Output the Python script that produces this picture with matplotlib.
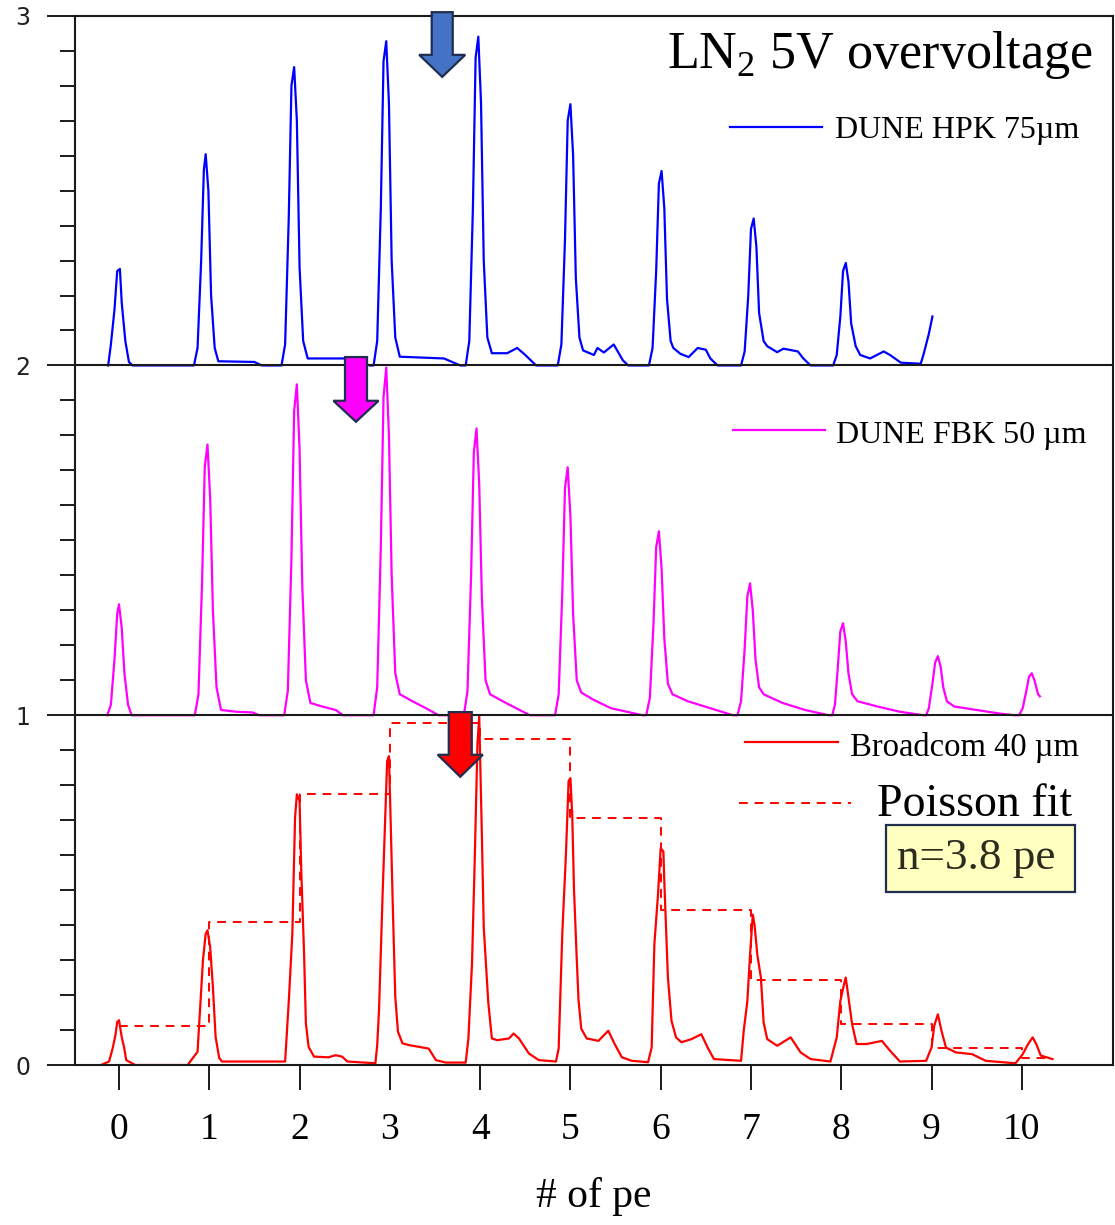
import numpy as np
import matplotlib.pyplot as plt
import matplotlib.patches as mpatches
from matplotlib.ticker import MultipleLocator

plt.rcParams['font.family'] = ['Liberation Serif', 'DejaVu Serif']
plt.rcParams['mathtext.fontset'] = 'custom'
plt.rcParams['mathtext.rm'] = 'Liberation Serif'

# ---- data (x = # of pe, y = normalised counts) ----
# DUNE HPK 75um (drawn with offset 2)
hpk_x = [-0.12, -0.09, -0.05, -0.02, 0.01, 0.03, 0.07, 0.11, 0.15,
         0.83, 0.87, 0.91, 0.94, 0.96, 0.99, 1.02, 1.06, 1.10, 1.50, 1.58,
         1.80, 1.84, 1.88, 1.91, 1.94, 1.97, 2.00, 2.04, 2.09, 2.50, 2.78,
         2.82, 2.86, 2.90, 2.93, 2.96, 2.99, 3.02, 3.06, 3.11, 3.60, 3.78,
         3.84, 3.88, 3.92, 3.95, 3.98, 4.01, 4.04, 4.08, 4.13, 4.30, 4.41, 4.50, 4.62,
         4.86, 4.90, 4.94, 4.97, 5.00, 5.03, 5.06, 5.10, 5.14, 5.26, 5.30, 5.37, 5.48, 5.58, 5.64,
         5.87, 5.91, 5.95, 5.98, 6.01, 6.04, 6.07, 6.11, 6.14, 6.22, 6.31, 6.41, 6.50, 6.55, 6.63,
         6.89, 6.93, 6.97, 7.00, 7.03, 7.06, 7.09, 7.14, 7.18, 7.29, 7.36, 7.52, 7.58, 7.66,
         7.91, 7.95, 7.99, 8.02, 8.05, 8.08, 8.11, 8.16, 8.21, 8.32, 8.47, 8.54, 8.66, 8.88,
         8.91, 8.97, 9.01]
hpk_y = [0, 0.06, 0.16, 0.27, 0.276, 0.18, 0.07, 0.01, 0,
         0, 0.05, 0.30, 0.56, 0.604, 0.50, 0.20, 0.05, 0.012, 0.01, 0,
         0, 0.06, 0.42, 0.80, 0.853, 0.70, 0.28, 0.07, 0.02, 0.02, 0,
         0, 0.07, 0.45, 0.87, 0.927, 0.75, 0.30, 0.08, 0.025, 0.02, 0,
         0, 0.07, 0.45, 0.88, 0.940, 0.75, 0.30, 0.08, 0.035, 0.035, 0.05, 0.03, 0,
         0, 0.06, 0.36, 0.70, 0.747, 0.60, 0.25, 0.08, 0.043, 0.03, 0.05, 0.037, 0.06, 0.015, 0,
         0, 0.05, 0.27, 0.52, 0.556, 0.45, 0.19, 0.07, 0.05, 0.033, 0.024, 0.05, 0.045, 0.02, 0,
         0, 0.04, 0.20, 0.39, 0.420, 0.34, 0.15, 0.07, 0.055, 0.038, 0.048, 0.04, 0.02, 0,
         0, 0.03, 0.14, 0.27, 0.293, 0.24, 0.12, 0.055, 0.03, 0.02, 0.04, 0.03, 0.008, 0.005,
         0.03, 0.09, 0.14]

# DUNE FBK 50um (drawn with offset 1)
fbk_x = [-0.13, -0.09, -0.05, -0.02, 0.00, 0.03, 0.06, 0.10, 0.14,
         0.84, 0.88, 0.92, 0.95, 0.98, 1.01, 1.04, 1.08, 1.13, 1.30, 1.48, 1.55,
         1.83, 1.87, 1.91, 1.94, 1.97, 2.00, 2.03, 2.07, 2.12, 2.25, 2.40, 2.48,
         2.82, 2.86, 2.90, 2.93, 2.96, 2.99, 3.02, 3.06, 3.11, 3.25, 3.40, 3.54,
         3.82, 3.86, 3.90, 3.93, 3.96, 3.99, 4.02, 4.06, 4.11, 4.25, 4.40, 4.55,
         4.83, 4.87, 4.91, 4.94, 4.97, 5.00, 5.03, 5.07, 5.12, 5.25, 5.45, 5.80,
         5.84, 5.88, 5.92, 5.95, 5.98, 6.01, 6.04, 6.08, 6.13, 6.30, 6.55, 6.80,
         6.85, 6.89, 6.93, 6.96, 6.99, 7.02, 7.05, 7.09, 7.14, 7.35, 7.60, 7.86,
         7.90, 7.93, 7.96, 7.99, 8.02, 8.05, 8.08, 8.12, 8.18, 8.40, 8.65, 8.91,
         8.94, 8.97, 9.01, 9.04, 9.07, 9.10, 9.13, 9.17, 9.25, 9.50, 9.75, 9.92,
         9.97, 10.01, 10.05, 10.08, 10.11, 10.14, 10.18, 10.20]
fbk_y = [0, 0.03, 0.16, 0.29, 0.317, 0.25, 0.12, 0.03, 0,
         0, 0.06, 0.38, 0.71, 0.774, 0.62, 0.30, 0.08, 0.015, 0.01, 0.008, 0,
         0, 0.07, 0.45, 0.87, 0.946, 0.76, 0.37, 0.10, 0.035, 0.025, 0.015, 0,
         0, 0.08, 0.48, 0.91, 0.994, 0.80, 0.40, 0.12, 0.06, 0.04, 0.02, 0,
         0, 0.07, 0.40, 0.75, 0.820, 0.66, 0.33, 0.10, 0.06, 0.04, 0.02, 0,
         0, 0.06, 0.35, 0.65, 0.709, 0.57, 0.29, 0.10, 0.065, 0.045, 0.02, 0,
         0, 0.05, 0.26, 0.48, 0.526, 0.42, 0.22, 0.09, 0.06, 0.04, 0.02, 0,
         0, 0.04, 0.19, 0.34, 0.377, 0.30, 0.16, 0.08, 0.06, 0.035, 0.015, 0,
         0, 0.03, 0.13, 0.24, 0.263, 0.21, 0.12, 0.06, 0.04, 0.025, 0.01, 0,
         0, 0.02, 0.09, 0.15, 0.169, 0.14, 0.08, 0.04, 0.025, 0.015, 0.005, 0,
         0, 0.02, 0.07, 0.11, 0.120, 0.10, 0.06, 0.054]

# Broadcom 40um (offset 0)
brc_x = [-0.20, -0.11, -0.07, -0.04, -0.02, 0.00, 0.03, 0.055, 0.08, 0.18,
         0.76, 0.87, 0.93, 0.96, 0.98, 1.01, 1.04, 1.07, 1.11, 1.14,
         1.84, 1.88, 1.92, 1.95, 1.97, 2.00, 2.02, 2.05, 2.07, 2.10, 2.16, 2.32, 2.40, 2.47, 2.53,
         2.84, 2.86, 2.88, 2.92, 2.95, 2.97, 2.99, 3.01, 3.03, 3.06, 3.09, 3.14, 3.21, 3.43, 3.51, 3.62,
         3.84, 3.87, 3.91, 3.94, 3.97, 3.99, 4.02, 4.04, 4.09, 4.13, 4.19, 4.32, 4.37, 4.43, 4.54, 4.65,
         4.84, 4.87, 4.91, 4.95, 4.98, 5.00, 5.02, 5.04, 5.07, 5.09, 5.12, 5.18, 5.31, 5.42, 5.49, 5.57, 5.68,
         5.86, 5.90, 5.93, 5.97, 6.00, 6.03, 6.04, 6.08, 6.12, 6.17, 6.23, 6.34, 6.45, 6.52, 6.59,
         6.89, 6.92, 6.96, 6.99, 7.02, 7.04, 7.07, 7.11, 7.14, 7.18, 7.29, 7.44, 7.55, 7.66,
         7.88, 7.95, 7.99, 8.03, 8.05, 8.08, 8.12, 8.17, 8.28, 8.45, 8.54, 8.65,
         8.94, 9.00, 9.03, 9.07, 9.11, 9.16, 9.27, 9.45, 9.60,
         9.93, 10.01, 10.07, 10.12, 10.16, 10.21, 10.34]
brc_y = [0, 0.01, 0.048, 0.085, 0.123, 0.128, 0.08, 0.052, 0.014, 0,
         0, 0.038, 0.30, 0.375, 0.385, 0.337, 0.223, 0.08, 0.02, 0.01,
         0.01, 0.18, 0.375, 0.707, 0.774, 0.755, 0.546, 0.318, 0.119, 0.052, 0.024, 0.022, 0.028, 0.024, 0.01,
         0.005, 0.057, 0.157, 0.489, 0.717, 0.869, 0.883, 0.688, 0.48, 0.195, 0.095, 0.062, 0.057, 0.047, 0.014, 0.007,
         0.007, 0.076, 0.29, 0.584, 0.916, 0.997, 0.65, 0.394, 0.18, 0.076, 0.071, 0.076, 0.09, 0.076, 0.033, 0.014,
         0.01, 0.047, 0.375, 0.60, 0.812, 0.82, 0.717, 0.50, 0.304, 0.185, 0.104, 0.076, 0.069, 0.098, 0.06, 0.022, 0.012,
         0.008, 0.05, 0.345, 0.487, 0.62, 0.61, 0.525, 0.25, 0.126, 0.079, 0.065, 0.074, 0.088, 0.05, 0.017,
         0.012, 0.098, 0.183, 0.316, 0.43, 0.40, 0.316, 0.25, 0.122, 0.074, 0.055, 0.079, 0.036, 0.017,
         0.01, 0.079, 0.183, 0.23, 0.25, 0.193, 0.117, 0.06, 0.06, 0.069, 0.041, 0.01,
         0.012, 0.05, 0.112, 0.145, 0.098, 0.05, 0.036, 0.031, 0.012,
         0.005, 0.031, 0.06, 0.079, 0.06, 0.027, 0.017]

# Poisson fit (n = 3.8 pe), one level per pe bin
pois_k = [0, 1, 2, 3, 4, 5, 6, 7, 8, 9, 10, 10.3]
pois_level = [0.111, 0.41, 0.776, 0.978, 0.932, 0.706, 0.444, 0.242, 0.117, 0.048, 0.019, 0.019]

pe_ticks = list(range(0, 11))

fig = plt.figure(figsize=(11.15, 12.25), dpi=100)
ax = fig.add_axes([0.0673, 0.1306, 0.9309, 0.8566])

ax.plot(hpk_x, np.array(hpk_y) + 2, color='#0000FF', lw=1.6, zorder=2)
ax.plot(fbk_x, np.array(fbk_y) + 1, color='#FF00FF', lw=1.6, zorder=2)
ax.plot(brc_x, brc_y, color='#FF0000', lw=1.6, zorder=2)
ax.plot(pois_k, pois_level, color='#FF0000', lw=1.4, drawstyle='steps-post',
        dashes=(4.5, 3.5), zorder=2)

# separators between the stacked spectra
for yy in (1, 2):
    ax.axhline(yy, color='#1a1a1a', lw=1.5, zorder=3)

ax.set_xlim(-0.487, 11.01)
ax.set_ylim(0, 3)

for s in ax.spines.values():
    s.set_linewidth(1.5)
    s.set_color('#1a1a1a')
    s.set_zorder(3)

ax.set_xticks(pe_ticks)
ax.set_xticklabels([str(t) for t in pe_ticks], fontsize=27)
ax.tick_params(axis='x', direction='out', length=18, width=1.4, pad=16, color='#1a1a1a')
ax.set_yticks([0, 1, 2, 3])
ax.set_yticklabels(['0', '1', '2', '3'], fontsize=17, family='DejaVu Sans', color='#222222')
ax.yaxis.set_minor_locator(MultipleLocator(0.1))
ax.tick_params(axis='y', which='major', direction='out', length=20, width=1.4, pad=12, color='#1a1a1a')
ax.tick_params(axis='y', which='minor', direction='out', length=10.5, width=1.4, color='#1a1a1a')

ax.set_xlabel('# of pe', fontsize=30, labelpad=22)

# title and hand-made legend
ax.text(0.98, 0.950, r'LN$_\mathregular{2}$ 5V overvoltage', transform=ax.transAxes,
        ha='right', va='baseline', fontsize=37.5)

ax.plot([0.631, 0.720], [0.894, 0.894], color='#0000FF', lw=1.6, transform=ax.transAxes)
ax.text(0.732, 0.891, 'DUNE HPK 75µm', transform=ax.transAxes, ha='left', va='center', fontsize=23)

ax.plot([0.634, 0.723], [0.605, 0.605], color='#FF00FF', lw=1.6, transform=ax.transAxes)
ax.text(0.733, 0.600, 'DUNE FBK 50 µm', transform=ax.transAxes, ha='left', va='center', fontsize=23)

ax.plot([0.645, 0.735], [0.308, 0.308], color='#FF0000', lw=1.6, transform=ax.transAxes)
ax.text(0.747, 0.303, 'Broadcom 40 µm', transform=ax.transAxes, ha='left', va='center', fontsize=23.5)

ax.plot([0.640, 0.748], [0.2497, 0.2497], color='#FF0000', lw=1.4, dashes=(4.5, 3.5),
        transform=ax.transAxes)
ax.text(0.773, 0.248, 'Poisson fit', transform=ax.transAxes, ha='left', va='center', fontsize=33)

box = mpatches.Rectangle((0.781, 0.165), 0.182, 0.064, transform=ax.transAxes,
                         facecolor='#FFFFC0', edgecolor='#1F2D4F', lw=1.6, zorder=4)
ax.add_patch(box)
ax.text(0.792, 0.197, 'n=3.8 pe', transform=ax.transAxes, ha='left', va='center',
        fontsize=32.5, color='#2b2b1e', zorder=5)

# arrows marking the mean of each spectrum
arrow_specs = [(3.58, 3.010, 0.233, 0.51, 0.063, '#4472C4'),
               (2.625, 2.024, 0.244, 0.50, 0.060, '#FF00FF'),
               (3.78, 1.009, 0.255, 0.50, 0.063, '#FF0000')]
for ax_x, ax_y, w, hw, hl, col in arrow_specs:
    arr = mpatches.FancyArrow(ax_x, ax_y, 0, -0.185, width=w, head_width=hw, head_length=hl,
                              length_includes_head=True, facecolor=col, edgecolor='#1F2D4F',
                              lw=1.6, zorder=6, clip_on=False)
    ax.add_patch(arr)

fig.savefig('out.png', dpi=100)
